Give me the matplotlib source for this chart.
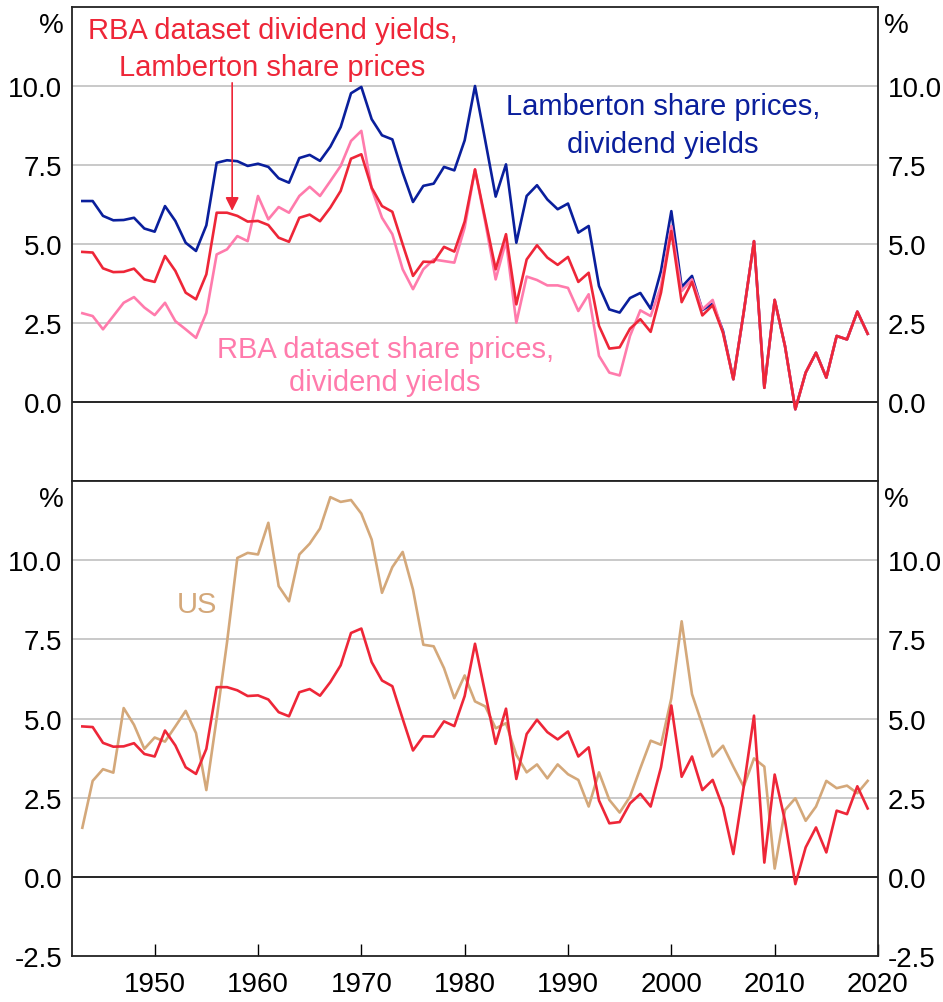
import matplotlib
matplotlib.use("Agg")
import matplotlib.pyplot as plt
import numpy as np

plt.rcParams['font.family'] = ['Liberation Sans', 'DejaVu Sans']

years = np.arange(1943, 2020)

# RBA dataset dividend yields, Lamberton share prices
rba_div_lamb_px = [
    4.75, 4.73, 4.23, 4.11, 4.12, 4.22, 3.88, 3.80, 4.62, 4.15,
    3.46, 3.25, 4.04, 5.99, 5.99, 5.89, 5.71, 5.73, 5.60, 5.20,
    5.07, 5.83, 5.93, 5.72, 6.15, 6.68, 7.70, 7.84, 6.78, 6.20,
    6.02, 4.99, 3.99, 4.44, 4.43, 4.91, 4.76, 5.71, 7.36, 5.78,
    4.20, 5.31, 3.09, 4.51, 4.96, 4.57, 4.34, 4.59, 3.80, 4.09,
    2.41, 1.69, 1.73, 2.32, 2.62, 2.22, 3.46, 5.41, 3.16, 3.80,
    2.74, 3.06, 2.19, 0.72, 2.83, 5.09, 0.45, 3.23, 1.77, -0.23,
    0.93, 1.56, 0.77, 2.09, 1.98, 2.86, 2.16,
]

# Lamberton share prices, dividend yields
lamberton = [
    6.36, 6.36, 5.89, 5.75, 5.76, 5.83, 5.49, 5.39, 6.20, 5.73,
    5.04, 4.78, 5.59, 7.57, 7.65, 7.62, 7.47, 7.54, 7.44, 7.08,
    6.94, 7.72, 7.82, 7.63, 8.08, 8.70, 9.77, 9.97, 8.95, 8.44,
    8.31, 7.26, 6.33, 6.84, 6.91, 7.44, 7.33, 8.28, 10.0, 8.26,
    6.50, 7.52, 5.04, 6.52, 6.86, 6.41, 6.10, 6.28, 5.36, 5.57,
    3.67, 2.93, 2.83, 3.29, 3.45, 2.95, 4.15, 6.04, 3.64, 3.99,
    2.91, 3.11, 2.25, 0.72, 2.83, 5.09, 0.45, 3.23, 1.77, -0.23,
    0.93, 1.56, 0.77, 2.09, 1.98, 2.86, 2.16,
]

# RBA dataset share prices, dividend yields
rba_both = [
    2.81, 2.72, 2.30, 2.72, 3.14, 3.32, 2.99, 2.75, 3.14, 2.56,
    2.30, 2.03, 2.82, 4.67, 4.83, 5.25, 5.09, 6.52, 5.78, 6.17,
    5.99, 6.52, 6.81, 6.52, 6.99, 7.47, 8.26, 8.58, 6.75, 5.83,
    5.31, 4.20, 3.57, 4.20, 4.51, 4.46, 4.41, 5.52, 7.36, 5.68,
    3.88, 5.09, 2.51, 3.97, 3.86, 3.69, 3.69, 3.61, 2.88, 3.41,
    1.46, 0.93, 0.84, 2.09, 2.90, 2.72, 3.67, 5.57, 3.51, 3.88,
    2.93, 3.23, 2.19, 0.72, 2.83, 5.09, 0.45, 3.23, 1.77, -0.23,
    0.93, 1.56, 0.77, 2.09, 1.98, 2.86, 2.16,
]

# US
us = [
    1.55, 3.03, 3.40, 3.29, 5.33, 4.80, 4.04, 4.40, 4.27, 4.75,
    5.24, 4.54, 2.74, 5.00, 7.40, 10.07, 10.23, 10.18, 11.18, 9.18,
    8.70, 10.18, 10.52, 11.00, 11.99, 11.84, 11.90, 11.47, 10.65, 8.97,
    9.78, 10.26, 9.07, 7.33, 7.28, 6.59, 5.64, 6.36, 5.54, 5.38,
    4.69, 4.85, 3.85, 3.30, 3.55, 3.11, 3.55, 3.24, 3.06, 2.22,
    3.30, 2.43, 2.03, 2.53, 3.43, 4.30, 4.17, 5.64, 8.07, 5.77,
    4.80, 3.80, 4.14, 3.48, 2.85, 3.74, 3.48, 0.26, 2.11, 2.48,
    1.77, 2.22, 3.03, 2.80, 2.88, 2.64, 3.03,
]

yticks = [-2.5, 0.0, 2.5, 5.0, 7.5, 10.0]
xticks = [1950, 1960, 1970, 1980, 1990, 2000, 2010, 2020]

c_blue = '#0a1f9c'
c_red = '#ee2638'
c_pink = '#ff7bac'
c_tan = '#d4a87a'
lw = 1.9
fs = 20
fs_note = 21

fig = plt.figure(figsize=(9.43, 10.03), dpi=100)
ax1 = fig.add_axes([72 / 943, 1 - 482 / 1003, 806 / 943, 474 / 1003])
ax2 = fig.add_axes([72 / 943, 1 - 957 / 1003, 806 / 943, 475 / 1003])


def style_axis(ax, show_bottom_label):
    ax.set_xlim(1942, 2020)
    ax.set_ylim(-2.5, 12.5)
    for y in yticks:
        if y == 0:
            ax.axhline(0, color='black', lw=1.2, zorder=1)
        elif y > -2.5:
            ax.axhline(y, color='#c0c0c0', lw=1.2, zorder=0)
    labs = ['%.1f' % y for y in yticks]
    if not show_bottom_label:
        labs[0] = ''
    ax.set_yticks(yticks)
    ax.set_yticklabels(labs)
    ax.tick_params(axis='y', length=0, labelsize=fs, pad=7,
                   labelleft=True, labelright=True)
    for s in ax.spines.values():
        s.set_linewidth(1.3)
        s.set_color('#222222')
    ax.text(-0.01, 0.99, '%', transform=ax.transAxes, ha='right', va='top', fontsize=fs)
    ax.text(1.007, 0.99, '%', transform=ax.transAxes, ha='left', va='top', fontsize=fs)


style_axis(ax1, False)
style_axis(ax2, True)

ax1.set_xticks([])
ax2.set_xticks(xticks)
ax2.set_xticklabels([str(x) for x in xticks])
ax2.tick_params(axis='x', direction='in', length=9, width=1, labelsize=fs, pad=11)

# top panel
ax1.plot(years, lamberton, color=c_blue, lw=lw, zorder=3)
ax1.plot(years, rba_both, color=c_pink, lw=lw, zorder=4)
ax1.plot(years, rba_div_lamb_px, color=c_red, lw=lw, zorder=5)

ax1.text(1961.4, 11.77, 'RBA dataset dividend yields,', color=c_red, fontsize=fs_note,
         ha='center', va='center')
ax1.text(1961.4, 10.59, 'Lamberton share prices', color=c_red, fontsize=fs_note,
         ha='center', va='center')
ax1.annotate('', xy=(1957.5, 6.05), xytext=(1957.5, 10.1),
             arrowprops=dict(arrowstyle='-|>', color=c_red, lw=1.2,
                             mutation_scale=20, shrinkA=0, shrinkB=0))
ax1.text(1999.2, 9.36, 'Lamberton share prices,', color=c_blue, fontsize=fs_note,
         ha='center', va='center')
ax1.text(1999.2, 8.16, 'dividend yields', color=c_blue, fontsize=fs_note,
         ha='center', va='center')
ax1.text(1972.3, 1.67, 'RBA dataset share prices,', color=c_pink, fontsize=fs_note,
         ha='center', va='center')
ax1.text(1972.3, 0.62, 'dividend yields', color=c_pink, fontsize=fs_note,
         ha='center', va='center')

# bottom panel
ax2.plot(years, us, color=c_tan, lw=lw, zorder=3)
ax2.plot(years, rba_div_lamb_px, color=c_red, lw=lw, zorder=4)
ax2.text(1954.1, 8.62, 'US', color=c_tan, fontsize=fs_note, ha='center', va='center')

fig.savefig('out.png', dpi=100)
